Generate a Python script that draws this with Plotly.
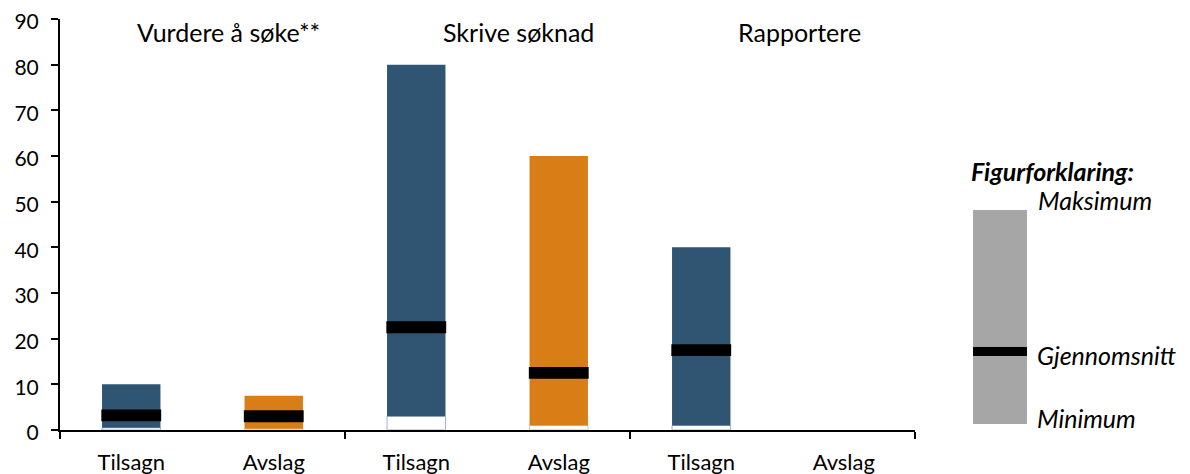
import plotly.graph_objects as go

categories = ["Tilsagn", "Avslag", "Tilsagn", "Avslag", "Tilsagn", "Avslag"]
groups = ["Vurdere å søke**", "Skrive søknad", "Rapportere"]
min_vals = [0.5, 0.3, 3.0, 1.0, 1.0, None]
max_vals = [10.0, 7.5, 80.0, 60.0, 40.0, None]
mean_vals = [3.2, 3.0, 22.5, 12.5, 17.5, None]
bar_colors = ["#2F5573", "#D97E17", "#2F5573", "#D97E17", "#2F5573", "#D97E17"]
edge_colors = ["#9DB2C6", "#EDBE8A", "#9DB2C6", "#EDBE8A", "#9DB2C6", "#EDBE8A"]

xs = list(range(len(categories)))
FONT = "Lato"
MEAN_THICK = 2.6  # data units for the mean marker thickness
BW = 0.41

fig = go.Figure()
# base (minimum) - white with thin outline
fig.add_trace(go.Bar(
    x=xs, y=min_vals, width=BW,
    marker=dict(color="white", line=dict(color=edge_colors, width=1)),
    hoverinfo="skip", showlegend=False))
# range min -> max
fig.add_trace(go.Bar(
    x=xs, y=[(mx - mn) if mx is not None else None for mn, mx in zip(min_vals, max_vals)],
    base=min_vals, width=BW,
    marker=dict(color=bar_colors, line=dict(width=0)),
    showlegend=False))
# mean marker
fig.add_trace(go.Bar(
    x=xs, y=[MEAN_THICK if m is not None else None for m in mean_vals],
    base=[(m - MEAN_THICK / 2) if m is not None else None for m in mean_vals],
    width=BW + 0.01,
    marker=dict(color="black", line=dict(width=0)),
    showlegend=False))

fig.update_layout(
    width=1190, height=474,
    margin=dict(l=52, r=283, t=11, b=52),
    plot_bgcolor="white", paper_bgcolor="white",
    barmode="overlay",
    font=dict(family=FONT, size=22, color="black"),
    xaxis=dict(
        range=[-0.5, 5.5], tickvals=xs, ticktext=categories,
        showline=True, linecolor="black", linewidth=2, ticks="",
        showgrid=False, zeroline=False, automargin=False,
        tickfont=dict(size=22), ticklabelstandoff=12,
        minor=dict(tickvals=[-0.5, 1.5, 3.5, 5.5], ticks="outside", ticklen=7,
                   tickcolor="black", tickwidth=2, showgrid=False),
    ),
    yaxis=dict(
        range=[0, 90], dtick=10, showline=True, linecolor="black", linewidth=2,
        ticks="outside", ticklen=7, tickcolor="black", tickwidth=2,
        showgrid=False, zeroline=False, automargin=False, tickfont=dict(size=21),
        ticklabelstandoff=8, ticklabeloverflow="allow", ticklabelshift=3,
    ),
)

# group labels
for gx, name in zip([0.68, 2.72, 4.69], groups):
    fig.add_annotation(x=gx, y=87.2, xref="x", yref="y", text=name, showarrow=False,
                       font=dict(size=25), xanchor="center", yanchor="middle")

# explanatory legend (paper coords, based on screen pixels)
def px_x(p):
    return (p - 60) / 855.0

def px_y(p):
    return (430 - p) / 411.0

fig.add_shape(type="rect", xref="paper", yref="paper",
              x0=px_x(973), x1=px_x(1027), y0=px_y(424), y1=px_y(210),
              fillcolor="#A6A6A6", line=dict(width=0))
fig.add_shape(type="line", xref="paper", yref="paper",
              x0=px_x(973), x1=px_x(1027), y0=px_y(351.5), y1=px_y(351.5),
              line=dict(color="black", width=9))
fig.add_annotation(xref="paper", yref="paper", x=px_x(1052), y=px_y(171),
                   text="<b><i>Figurforklaring:</i></b>", showarrow=False,
                   xanchor="center", yanchor="middle", font=dict(size=25))
for label, lx, ly in [("Maksimum", 1036, 200), ("Gjennomsnitt", 1035, 355), ("Minimum", 1035, 418)]:
    fig.add_annotation(xref="paper", yref="paper", x=px_x(lx), y=px_y(ly),
                       text="<i>" + label + "</i>", showarrow=False,
                       xanchor="left", yanchor="middle", font=dict(size=25))

fig.write_html("out.html")
